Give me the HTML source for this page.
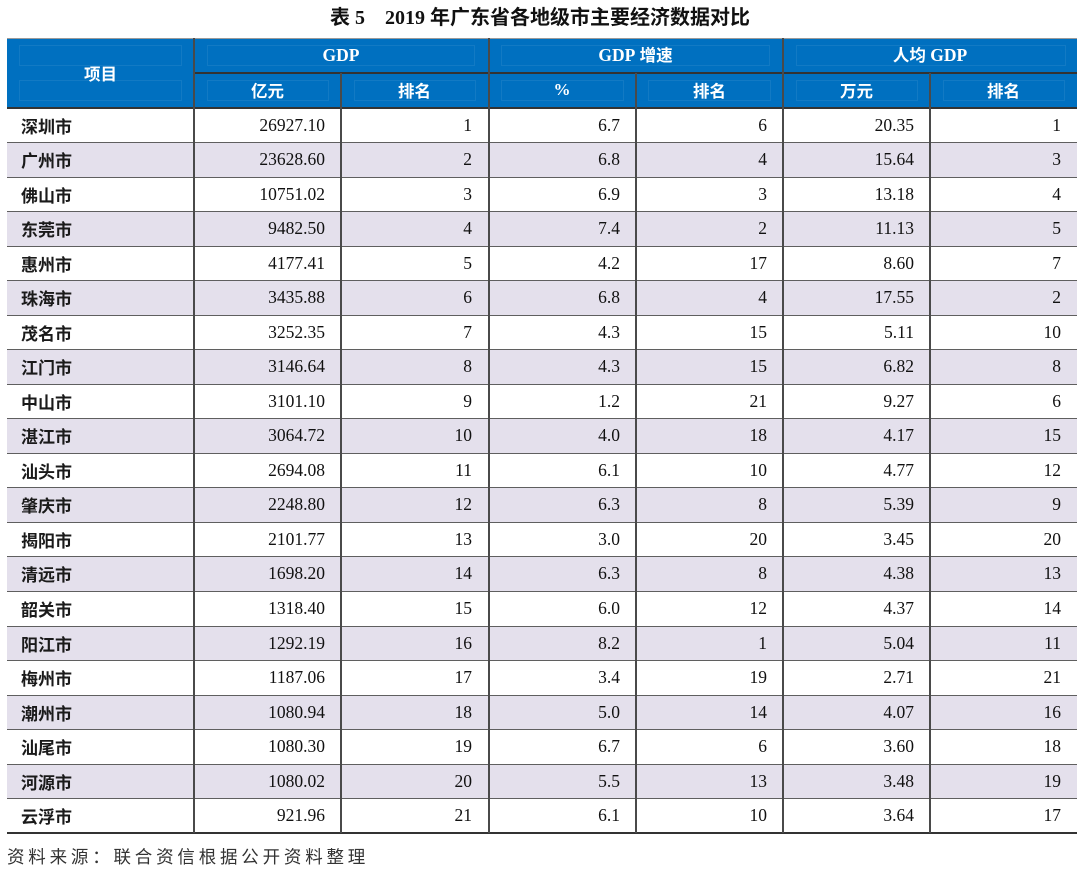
<!DOCTYPE html>
<html><head><meta charset="utf-8">
<style>
html,body{margin:0;padding:0;background:#fff;}
body{width:1080px;height:874px;position:relative;overflow:hidden;font-family:"Liberation Serif","Noto Sans CJK SC",serif;color:#111;}
.title{position:absolute;left:0;top:4px;width:1080px;text-align:center;font-size:20px;font-weight:bold;line-height:28px;color:#111;}
#t{position:absolute;left:7px;top:38px;width:1070px;height:795px;}
.hbg{position:absolute;left:0;top:0;width:1070px;height:69.7px;background:#0070c0;border-top:1px solid #9a9a9a;box-sizing:border-box;}
.h{position:absolute;color:#fff;font-weight:bold;text-align:center;display:flex;align-items:center;justify-content:center;font-size:16.5px;}
.h .s{font-family:"Noto Sans CJK SC","Liberation Sans",sans-serif;}
.in{position:absolute;border:1px solid rgba(255,255,255,0.07);box-sizing:border-box;}
.row{position:absolute;left:0;width:1070px;height:35px;display:flex;}
.row.l{background:#e4e0ec;}
.row div{height:35px;line-height:35px;box-sizing:border-box;font-size:17.5px;}
.c0{width:187px;padding-left:14px;font-family:"Noto Sans CJK SC","Liberation Sans",sans-serif;font-weight:bold;font-size:17px!important;color:#1a1a1a;}
.cn{text-align:right;padding-right:16px;}
.w147{width:147px;}.w148{width:148px;}
.vl{position:absolute;width:2px;background:#4a4a4a;}
.hl{position:absolute;left:0;width:1070px;height:1.5px;background:#5f5f5f;}
.src{position:absolute;left:7px;top:845px;font-family:"Noto Sans CJK SC",sans-serif;font-size:17.5px;letter-spacing:3.8px;color:#333;line-height:24px;}
</style></head><body>
<div class="title">表 5　2019 年广东省各地级市主要经济数据对比</div>
<div id="t">
<div class="hbg"></div>
<div class="in" style="left:12px;top:7px;width:163px;height:21px"></div>
<div class="in" style="left:12px;top:42px;width:163px;height:21px"></div>
<div class="in" style="left:200px;top:7px;width:268px;height:21px"></div>
<div class="in" style="left:494px;top:7px;width:269px;height:21px"></div>
<div class="in" style="left:789px;top:7px;width:270px;height:21px"></div>
<div class="in" style="left:200px;top:42px;width:122px;height:21px"></div>
<div class="in" style="left:347px;top:42px;width:122px;height:21px"></div>
<div class="in" style="left:494px;top:42px;width:123px;height:21px"></div>
<div class="in" style="left:641px;top:42px;width:123px;height:21px"></div>
<div class="in" style="left:789px;top:42px;width:122px;height:21px"></div>
<div class="in" style="left:936px;top:42px;width:122px;height:21px"></div>
<div class="h" style="left:0;top:0;width:187px;height:69.7px"><span class="s">项目</span></div>
<div class="h" style="left:187px;top:0;width:294px;height:35px;font-size:17.5px">GDP</div>
<div class="h" style="left:481px;top:0;width:295px;height:35px;font-size:17.5px"><span style="margin-top:-4px">GDP&nbsp;<span class="s" style="font-size:16.5px">增速</span></span></div>
<div class="h" style="left:776px;top:0;width:294px;height:35px;font-size:17.5px"><span style="margin-top:-4px"><span class="s" style="font-size:16.5px">人均</span>&nbsp;GDP</span></div>
<div class="h" style="left:187px;top:35px;width:147px;height:34.7px"><span class="s">亿元</span></div>
<div class="h" style="left:334px;top:35px;width:147px;height:34.7px"><span class="s">排名</span></div>
<div class="h" style="left:481px;top:35px;width:148px;height:34.7px;font-size:17px">%</div>
<div class="h" style="left:629px;top:35px;width:147px;height:34.7px"><span class="s">排名</span></div>
<div class="h" style="left:776px;top:35px;width:147px;height:34.7px"><span class="s">万元</span></div>
<div class="h" style="left:923px;top:35px;width:147px;height:34.7px"><span class="s">排名</span></div>

<div class="row" style="top:70px"><div class="c0">深圳市</div><div class="cn w147">26927.10</div><div class="cn w147">1</div><div class="cn w148">6.7</div><div class="cn w147">6</div><div class="cn w147">20.35</div><div class="cn w147">1</div></div>
<div class="row l" style="top:104px"><div class="c0">广州市</div><div class="cn w147">23628.60</div><div class="cn w147">2</div><div class="cn w148">6.8</div><div class="cn w147">4</div><div class="cn w147">15.64</div><div class="cn w147">3</div></div>
<div class="row" style="top:139px"><div class="c0">佛山市</div><div class="cn w147">10751.02</div><div class="cn w147">3</div><div class="cn w148">6.9</div><div class="cn w147">3</div><div class="cn w147">13.18</div><div class="cn w147">4</div></div>
<div class="row l" style="top:173px"><div class="c0">东莞市</div><div class="cn w147">9482.50</div><div class="cn w147">4</div><div class="cn w148">7.4</div><div class="cn w147">2</div><div class="cn w147">11.13</div><div class="cn w147">5</div></div>
<div class="row" style="top:208px"><div class="c0">惠州市</div><div class="cn w147">4177.41</div><div class="cn w147">5</div><div class="cn w148">4.2</div><div class="cn w147">17</div><div class="cn w147">8.60</div><div class="cn w147">7</div></div>
<div class="row l" style="top:242px"><div class="c0">珠海市</div><div class="cn w147">3435.88</div><div class="cn w147">6</div><div class="cn w148">6.8</div><div class="cn w147">4</div><div class="cn w147">17.55</div><div class="cn w147">2</div></div>
<div class="row" style="top:277px"><div class="c0">茂名市</div><div class="cn w147">3252.35</div><div class="cn w147">7</div><div class="cn w148">4.3</div><div class="cn w147">15</div><div class="cn w147">5.11</div><div class="cn w147">10</div></div>
<div class="row l" style="top:311px"><div class="c0">江门市</div><div class="cn w147">3146.64</div><div class="cn w147">8</div><div class="cn w148">4.3</div><div class="cn w147">15</div><div class="cn w147">6.82</div><div class="cn w147">8</div></div>
<div class="row" style="top:346px"><div class="c0">中山市</div><div class="cn w147">3101.10</div><div class="cn w147">9</div><div class="cn w148">1.2</div><div class="cn w147">21</div><div class="cn w147">9.27</div><div class="cn w147">6</div></div>
<div class="row l" style="top:380px"><div class="c0">湛江市</div><div class="cn w147">3064.72</div><div class="cn w147">10</div><div class="cn w148">4.0</div><div class="cn w147">18</div><div class="cn w147">4.17</div><div class="cn w147">15</div></div>
<div class="row" style="top:415px"><div class="c0">汕头市</div><div class="cn w147">2694.08</div><div class="cn w147">11</div><div class="cn w148">6.1</div><div class="cn w147">10</div><div class="cn w147">4.77</div><div class="cn w147">12</div></div>
<div class="row l" style="top:449px"><div class="c0">肇庆市</div><div class="cn w147">2248.80</div><div class="cn w147">12</div><div class="cn w148">6.3</div><div class="cn w147">8</div><div class="cn w147">5.39</div><div class="cn w147">9</div></div>
<div class="row" style="top:484px"><div class="c0">揭阳市</div><div class="cn w147">2101.77</div><div class="cn w147">13</div><div class="cn w148">3.0</div><div class="cn w147">20</div><div class="cn w147">3.45</div><div class="cn w147">20</div></div>
<div class="row l" style="top:518px"><div class="c0">清远市</div><div class="cn w147">1698.20</div><div class="cn w147">14</div><div class="cn w148">6.3</div><div class="cn w147">8</div><div class="cn w147">4.38</div><div class="cn w147">13</div></div>
<div class="row" style="top:553px"><div class="c0">韶关市</div><div class="cn w147">1318.40</div><div class="cn w147">15</div><div class="cn w148">6.0</div><div class="cn w147">12</div><div class="cn w147">4.37</div><div class="cn w147">14</div></div>
<div class="row l" style="top:588px"><div class="c0">阳江市</div><div class="cn w147">1292.19</div><div class="cn w147">16</div><div class="cn w148">8.2</div><div class="cn w147">1</div><div class="cn w147">5.04</div><div class="cn w147">11</div></div>
<div class="row" style="top:622px"><div class="c0">梅州市</div><div class="cn w147">1187.06</div><div class="cn w147">17</div><div class="cn w148">3.4</div><div class="cn w147">19</div><div class="cn w147">2.71</div><div class="cn w147">21</div></div>
<div class="row l" style="top:657px"><div class="c0">潮州市</div><div class="cn w147">1080.94</div><div class="cn w147">18</div><div class="cn w148">5.0</div><div class="cn w147">14</div><div class="cn w147">4.07</div><div class="cn w147">16</div></div>
<div class="row" style="top:691px"><div class="c0">汕尾市</div><div class="cn w147">1080.30</div><div class="cn w147">19</div><div class="cn w148">6.7</div><div class="cn w147">6</div><div class="cn w147">3.60</div><div class="cn w147">18</div></div>
<div class="row l" style="top:726px"><div class="c0">河源市</div><div class="cn w147">1080.02</div><div class="cn w147">20</div><div class="cn w148">5.5</div><div class="cn w147">13</div><div class="cn w147">3.48</div><div class="cn w147">19</div></div>
<div class="row" style="top:760px;height:34px"><div class="c0">云浮市</div><div class="cn w147">921.96</div><div class="cn w147">21</div><div class="cn w148">6.1</div><div class="cn w147">10</div><div class="cn w147">3.64</div><div class="cn w147">17</div></div>

<div class="hl" style="left:187px;width:883px;top:34px;background:#333"></div>
<div class="hl" style="top:69px;background:#333"></div>
<div class="hl" style="top:103.5px"></div>
<div class="hl" style="top:138.5px"></div>
<div class="hl" style="top:172.5px"></div>
<div class="hl" style="top:207.5px"></div>
<div class="hl" style="top:241.5px"></div>
<div class="hl" style="top:276.5px"></div>
<div class="hl" style="top:310.5px"></div>
<div class="hl" style="top:345.5px"></div>
<div class="hl" style="top:379.5px"></div>
<div class="hl" style="top:414.5px"></div>
<div class="hl" style="top:448.5px"></div>
<div class="hl" style="top:483.5px"></div>
<div class="hl" style="top:517.5px"></div>
<div class="hl" style="top:552.5px"></div>
<div class="hl" style="top:587.5px"></div>
<div class="hl" style="top:621.5px"></div>
<div class="hl" style="top:656.5px"></div>
<div class="hl" style="top:690.5px"></div>
<div class="hl" style="top:725.5px"></div>
<div class="hl" style="top:759.5px"></div>
<div class="hl" style="top:794px;background:#333"></div>

<div class="vl" style="left:186px;top:0;height:795px"></div>
<div class="vl" style="left:333px;top:35px;height:760px"></div>
<div class="vl" style="left:481px;top:0;height:795px"></div>
<div class="vl" style="left:628px;top:35px;height:760px"></div>
<div class="vl" style="left:775px;top:0;height:795px"></div>
<div class="vl" style="left:922px;top:35px;height:760px"></div>
</div>
<div class="src">资料来源：联合资信根据公开资料整理</div>
</body></html>
